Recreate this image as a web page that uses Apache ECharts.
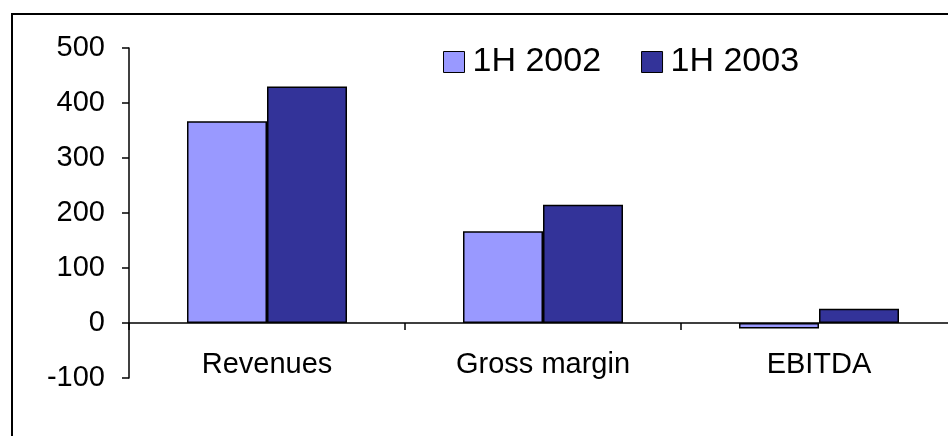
<!DOCTYPE html>
<html>
<head>
<meta charset="utf-8">
<script src="https://cdn.jsdelivr.net/npm/echarts@6/dist/echarts.min.js"></script>
<style>
  html, body { margin: 0; padding: 0; background: #fff; }
  #chart { width: 948px; height: 436px; }
</style>
</head>
<body>
<div id="chart"></div>
<script>
// data
const categories = ['Revenues', 'Gross margin', 'EBITDA']
const seriesNames = ['1H 2002', '1H 2003']
const values2002 = [367, 167, -10]
const values2003 = [430, 215, 26]
const yTicks = { min: -100, max: 500, step: 100 }

const font = "'Liberation Sans', Arial, sans-serif"
const colors = ['#9999FF', '#333399']

const chart = echarts.init(document.getElementById('chart'))

chart.setOption({
  animation: false,
  // outer frame, cut off at the right and bottom like the source
  graphic: [{
    type: 'rect',
    shape: { x: 12, y: 14, width: 1000, height: 500 },
    style: { fill: 'none', stroke: '#000', lineWidth: 2 },
    z: 100
  }],
  legend: {
    data: seriesNames,
    left: 438,
    top: 40,
    icon: 'rect',
    itemWidth: 21,
    itemHeight: 21,
    itemGap: 40,
    itemStyle: { borderColor: '#000', borderWidth: 1 },
    textStyle: { fontFamily: font, fontSize: 34, color: '#000', padding: [0, 0, 0, 3] }
  },
  // plot runs past the right edge of the picture
  grid: {
    left: 129,
    width: 828,
    top: 48,
    bottom: 58,
    outerBoundsMode: 'none'
  },
  xAxis: {
    type: 'category',
    data: categories,
    position: 'bottom',
    offset: -55,   // sits on the zero line
    axisLine: { onZero: false, lineStyle: { color: '#000', width: 1.5 } },
    axisTick: { show: true, length: 7, lineStyle: { color: '#000', width: 1.5 } },
    axisLabel: { color: '#000', fontFamily: font, fontSize: 29, margin: 27 }
  },
  yAxis: {
    type: 'value',
    min: yTicks.min,
    max: yTicks.max,
    interval: yTicks.step,
    splitLine: { show: false },
    axisLine: { show: true, lineStyle: { color: '#000', width: 1.5 } },
    axisTick: { show: true, length: 7, lineStyle: { color: '#000', width: 1.5 } },
    axisLabel: { color: '#000', fontFamily: font, fontSize: 29, margin: 24 }
  },
  series: [
    {
      name: seriesNames[0],
      type: 'bar',
      data: values2002,
      barWidth: 80,
      barGap: '0%',
      itemStyle: { color: colors[0], borderColor: '#000', borderWidth: 1.5 }
    },
    {
      name: seriesNames[1],
      type: 'bar',
      data: values2003,
      barWidth: 80,
      itemStyle: { color: colors[1], borderColor: '#000', borderWidth: 1.5 }
    }
  ]
})
</script>
</body>
</html>
